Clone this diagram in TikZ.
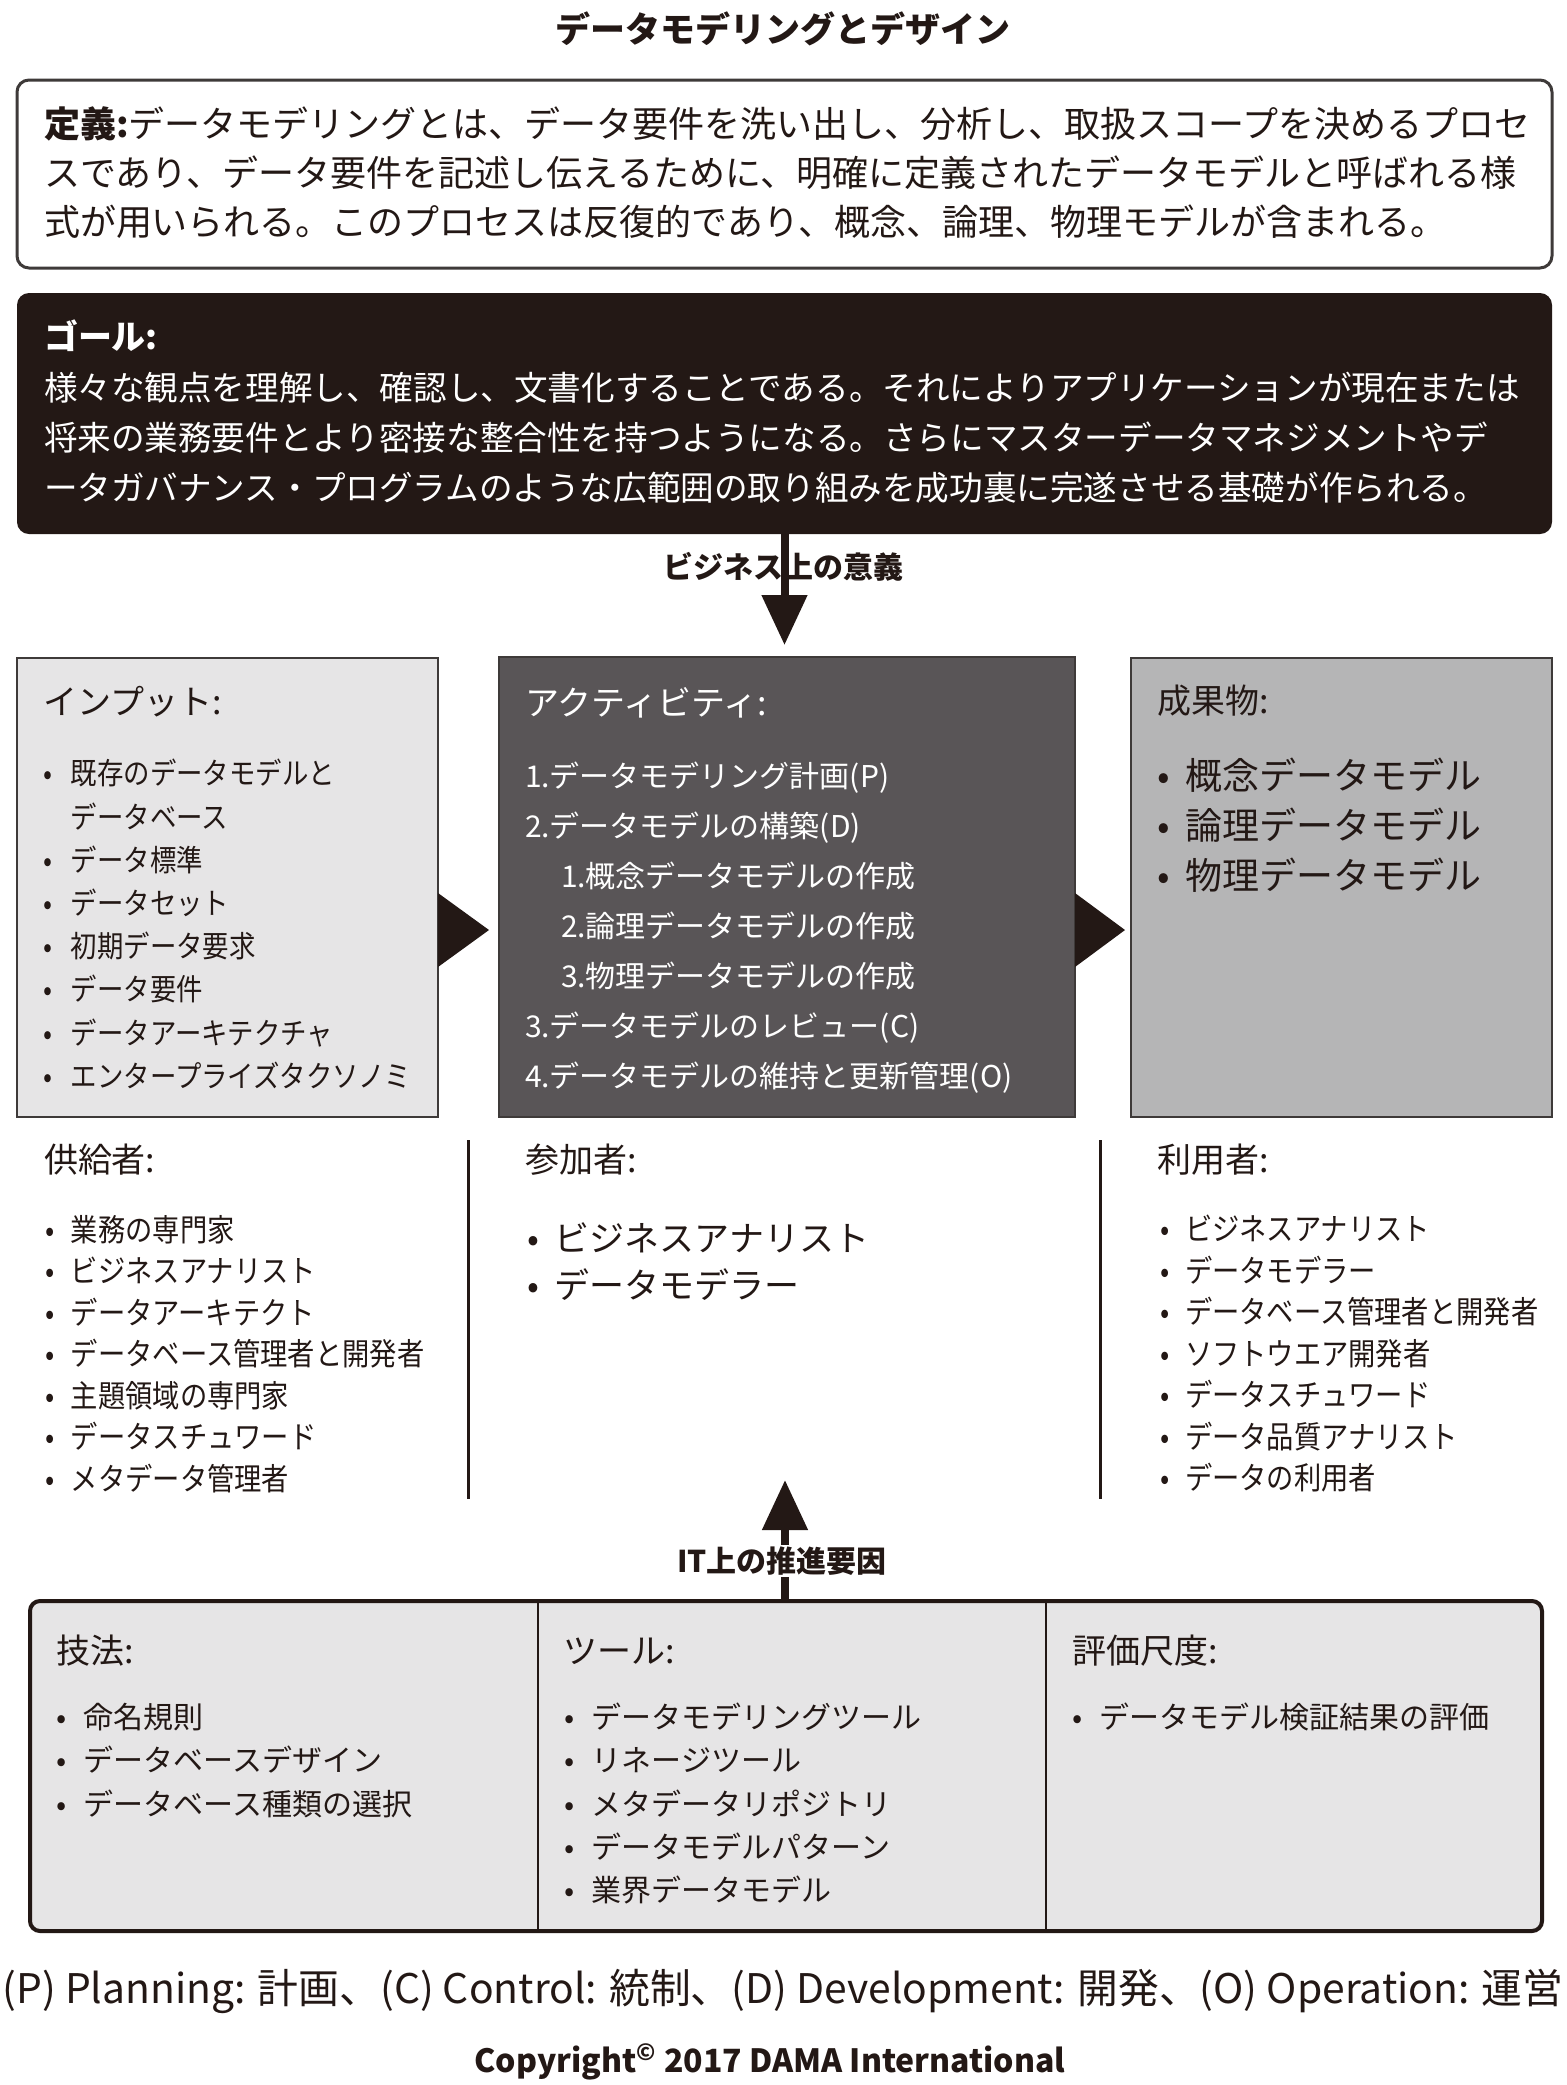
\documentclass[tikz,border=0pt]{standalone}
\usepackage{fontspec}
\setmainfont{Noto Sans CJK JP}
\newfontfamily\jp{Noto Sans CJK JP}
\newfontfamily\jpc{Noto Sans CJK JP}[FakeStretch=0.88]
\usetikzlibrary{arrows.meta}
\definecolor{ink}{HTML}{231815}
\definecolor{inbg}{HTML}{E6E5E6}
\definecolor{actbg}{HTML}{595557}
\definecolor{outbg}{HTML}{B5B5B6}
\definecolor{botbg}{HTML}{E6E5E6}
\definecolor{boxline}{HTML}{3E3A39}
\newlength\blw
\newcommand\itm{\makebox[\blw][c]{•}}
\newcommand\ind{\hspace*{\blw}}
\begin{document}
\begin{tikzpicture}[x=0.5pt,y=-0.5pt,
  every node/.style={inner sep=0pt, outer sep=0pt, text=ink},
  head/.style={anchor=west, font=\jp\fontsize{17pt}{20pt}\selectfont},
  lst/.style={anchor=west, align=left},
  panel/.style={draw=boxline, line width=1pt, minimum width=#1},
  arr/.style={draw=ink, line width=4pt, -{Triangle[width=22pt,length=25pt]}},
  sep/.style={draw=ink, line width=1.5pt},
  lbl/.style={font=\jp\bfseries\fontsize{15pt}{18pt}\selectfont, fill=white, inner xsep=1pt, inner ysep=1pt}
]
\useasboundingbox (0,0) rectangle (1567,2085);
\fill[white] (0,0) rectangle (1567,2085);

% title
\node[font=\jp\bfseries\fontsize{17.5pt}{20pt}\selectfont] (title) at (783,29) {データモデリングとデザイン};

% definition
\node[draw=boxline, line width=1.5pt, rounded corners=6pt, minimum width=767.5pt, minimum height=94pt] (def) at (784.5,174) {};
\node[lst, font=\jp\fontsize{18pt}{24.5pt}\selectfont] (deftx) at (44,173)
 {{\bfseries 定義:}データモデリングとは、データ要件を洗い出し、分析し、取扱スコープを決めるプロセ\\
  スであり、データ要件を記述し伝えるために、明確に定義されたデータモデルと呼ばれる様\\
  式が用いられる。このプロセスは反復的であり、概念、論理、物理モデルが含まれる。};

% goal
\node[fill=ink, rounded corners=6pt, minimum width=767.5pt, minimum height=120.5pt] (goal) at (784.5,413.5) {};
\node[head, text=white, font=\jp\bfseries\fontsize{17pt}{20pt}\selectfont] (goalh) at (44,336) {ゴール:};
\node[lst, text=white, font=\jp\fontsize{16.8pt}{25pt}\selectfont] (goaltx) at (44,438)
 {様々な観点を理解し、確認し、文書化することである。それによりアプリケーションが現在または\\
  将来の業務要件とより密接な整合性を持つようになる。さらにマスターデータマネジメントやデ\\
  ータガバナンス・プログラムのような広範囲の取り組みを成功裏に完遂させる基礎が作られる。};

% three main boxes
\node[panel=210.5pt, fill=inbg, minimum height=229.5pt] (inp) at (227.5,887.5) {};
\node[panel=288pt, fill=actbg, minimum height=230pt] (act) at (787,887) {};
\node[panel=210.5pt, fill=outbg, minimum height=229.5pt] (outp) at (1341.5,887.5) {};
\fill[ink] (438,893) -- (489,930) -- (438,967) -- cycle;
\fill[ink] (1075,893) -- (1125,930) -- (1075,967) -- cycle;

% business arrow
\draw[arr, shorten >=6pt] (goal.south) -- (goal.south |- act.north);
\node[lbl, fill=none] (biz) at (783,567) {ビジネス上の意義};

% inputs
\node[head] (inph) at (43,702) {インプット:};
\node[lst, font=\jpc\fontsize{15pt}{21.6pt}\selectfont\setlength\blw{23pt}] (inpl) at (25,924)
 {\itm 既存のデータモデルと\\
  \ind データベース\\
  \itm データ標準\\
  \itm データセット\\
  \itm 初期データ要求\\
  \itm データ要件\\
  \itm データアーキテクチャ\\
  \itm エンタープライズタクソノミ};

% activities
\node[head, text=white] (acth) at (525,703) {アクティビティ:};
\node[lst, text=white, font=\jp\fontsize{15pt}{25pt}\selectfont] (actl) at (525,928)
 {1.データモデリング計画(P)\\
  2.データモデルの構築(D)\\
  \hspace*{18pt}1.概念データモデルの作成\\
  \hspace*{18pt}2.論理データモデルの作成\\
  \hspace*{18pt}3.物理データモデルの作成\\
  3.データモデルのレビュー(C)\\
  4.データモデルの維持と更新管理(O)};

% deliverables
\node[head] (outh) at (1157,701) {成果物:};
\node[lst, font=\jp\fontsize{18.5pt}{25pt}\selectfont\setlength\blw{22pt}] (outl) at (1142,825)
 {\itm 概念データモデル\\
  \itm 論理データモデル\\
  \itm 物理データモデル};

% separators
\draw[sep] (468,1140) -- (468,1499);
\draw[sep] (1100,1140) -- (1100,1499);

% suppliers
\node[head] (suph) at (44,1160) {供給者:};
\node[lst, font=\jpc\fontsize{15.5pt}{20.75pt}\selectfont\setlength\blw{21pt}] (supl) at (29,1354)
 {\itm 業務の専門家\\
  \itm ビジネスアナリスト\\
  \itm データアーキテクト\\
  \itm データベース管理者と開発者\\
  \itm 主題領域の専門家\\
  \itm データスチュワード\\
  \itm メタデータ管理者};

% participants
\node[head] (parh) at (525,1160) {参加者:};
\node[lst, font=\jp\fontsize{17.5pt}{23.5pt}\selectfont\setlength\blw{22pt}] (parl) at (511,1261.5)
 {\itm ビジネスアナリスト\\
  \itm データモデラー};

% consumers
\node[head] (conh) at (1157,1160) {利用者:};
\node[lst, font=\jpc\fontsize{15.5pt}{20.75pt}\selectfont\setlength\blw{20pt}] (conl) at (1145,1354)
 {\itm ビジネスアナリスト\\
  \itm データモデラー\\
  \itm データベース管理者と開発者\\
  \itm ソフトウエア開発者\\
  \itm データスチュワード\\
  \itm データ品質アナリスト\\
  \itm データの利用者};

% bottom box
\node[draw=ink, line width=2pt, fill=botbg, rounded corners=5pt, minimum width=756pt, minimum height=165pt] (bot) at (786,1766) {};
\draw[draw=ink, line width=1pt] (538,1601) -- (538,1931);
\draw[draw=ink, line width=1pt] (1046,1601) -- (1046,1931);

% IT arrow
\coordinate (ittip) at (785,1480);
\draw[arr] (bot.north -| ittip) -- (ittip);
\node[lbl] (itl) at (782,1561) {IT上の推進要因};

% techniques
\node[head] (tech) at (56,1651) {技法:};
\node[lst, font=\jp\fontsize{15pt}{21.65pt}\selectfont\setlength\blw{22pt}] (tecl) at (40,1760.5)
 {\itm 命名規則\\
  \itm データベースデザイン\\
  \itm データベース種類の選択};

% tools
\node[head] (toolh) at (563,1651) {ツール:};
\node[lst, font=\jp\fontsize{15pt}{21.65pt}\selectfont\setlength\blw{22pt}] (tooll) at (548,1803.5)
 {\itm データモデリングツール\\
  \itm リネージツール\\
  \itm メタデータリポジトリ\\
  \itm データモデルパターン\\
  \itm 業界データモデル};

% metrics
\node[head] (meth) at (1072,1651) {評価尺度:};
\node[lst, font=\jp\fontsize{15pt}{21.65pt}\selectfont\setlength\blw{22pt}] (metl) at (1056,1717)
 {\itm データモデル検証結果の評価};

% footer
\node[font=\jp\fontsize{20.4pt}{24pt}\selectfont] (foot) at (783,1991)
 {(P) Planning: 計画、(C) Control: 統制、(D) Development: 開発、(O) Operation: 運営};
\node[font=\jp\bfseries\fontsize{16pt}{19pt}\selectfont] (copy) at (770,2062)
 {Copyright\textsuperscript{©} 2017 DAMA International};
\end{tikzpicture}
\end{document}
